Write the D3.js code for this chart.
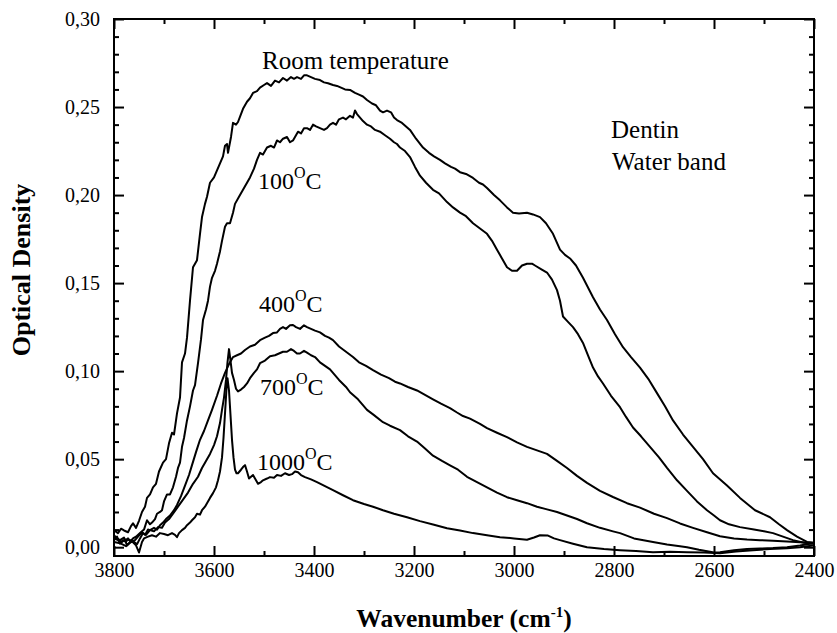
<!DOCTYPE html>
<html>
<head>
<meta charset="utf-8">
<script src="https://cdn.jsdelivr.net/npm/d3@7"></script>
<style>
    body { margin: 0; background: #fff; }
    svg { display: block; }
</style>
</head>
<body>
<svg id="chart"></svg>
<script>
// Spectra: [wavenumber (cm-1), optical density]
var roomTemp = [
    [3800,.0097],[3792,.0080],[3786,.0105],[3780,.0095],[3772,.0085],[3766,.0120],[3762,.0136],[3756,.0110],
    [3750,.0150],[3744,.0200],[3738,.0230],[3734,.0280],[3728,.0300],[3722,.0340],[3716,.0360],[3710,.0430],
    [3702,.0480],[3696,.0500],[3690,.0590],[3684,.0650],[3680,.0640],[3674,.0760],[3668,.0850],[3664,.1050],
    [3658,.1100],[3654,.1190],[3648,.1400],[3642,.1590],[3634,.1630],[3628,.1780],[3624,.1875],[3618,.1950],
    [3614,.1990],[3608,.2070],[3600,.2100],[3594,.2140],[3588,.2180],[3582,.2220],[3578,.2280],[3574,.2290],
    [3572,.2240],[3566,.2330],[3562,.2410],[3556,.2400],[3552,.2415],[3546,.2460],[3542,.2490],[3534,.2530],
    [3528,.2550],[3522,.2580],[3514,.2590],[3508,.2610],[3500,.2625],[3494,.2636],[3486,.2620],[3478,.2650],
    [3470,.2640],[3462,.2665],[3454,.2650],[3446,.2670],[3440,.2660],[3434,.2670],[3426,.2660],[3420,.2680],
    [3414,.2680],[3406,.2670],[3398,.2660],[3388,.2653],[3380,.2640],[3372,.2635],[3362,.2625],[3354,.2620],
    [3346,.2610],[3338,.2600],[3328,.2597],[3318,.2580],[3310,.2570],[3302,.2560],[3294,.2540],[3284,.2520],
    [3276,.2510],[3268,.2480],[3262,.2470],[3254,.2480],[3246,.2470],[3240,.2440],[3234,.2426],[3224,.2410],
    [3216,.2390],[3208,.2370],[3196,.2320],[3182,.2270],[3170,.2240],[3160,.2220],[3148,.2200],[3138,.2180],
    [3126,.2160],[3118,.2150],[3108,.2130],[3096,.2120],[3082,.2097],[3070,.2070],[3062,.2060],[3054,.2040],
    [3040,.2000],[3028,.1970],[3014,.1930],[3002,.1900],[2990,.1895],[2974,.1900],[2962,.1890],[2948,.1875],
    [2936,.1840],[2922,.1780],[2908,.1690],[2898,.1660],[2888,.1640],[2876,.1600],[2862,.1530],[2842,.1420],
    [2828,.1350],[2814,.1290],[2798,.1210],[2782,.1136],[2766,.1080],[2748,.1020],[2730,.0950],[2714,.0875],
    [2698,.0800],[2682,.0720],[2662,.0640],[2642,.0570],[2622,.0500],[2602,.0420],[2574,.0350],[2548,.0280],
    [2518,.0210],[2488,.0170],[2470,.0130],[2454,.0097],[2434,.0060],[2414,.0030],[2402,.0025]
]

var temp100 = [
    [3800,.0068],[3794,.0050],[3788,.0040],[3780,.0055],[3774,.0010],[3768,.0030],[3762,.0050],[3756,.0060],
    [3748,.0080],[3740,.0100],[3734,.0153],[3728,.0130],[3724,.0140],[3718,.0160],[3714,.0190],[3708,.0200],
    [3704,.0210],[3700,.0260],[3694,.0300],[3688,.0300],[3682,.0340],[3676,.0400],[3672,.0450],[3668,.0480],
    [3664,.0570],[3660,.0620],[3654,.0720],[3648,.0800],[3642,.0890],[3638,.0920],[3632,.1045],[3626,.1180],
    [3622,.1290],[3616,.1350],[3612,.1400],[3608,.1480],[3604,.1530],[3598,.1570],[3594,.1610],[3588,.1680],
    [3584,.1740],[3578,.1820],[3574,.1840],[3568,.1840],[3562,.1900],[3558,.1950],[3550,.1990],[3542,.2030],
    [3536,.2060],[3528,.2100],[3520,.2150],[3514,.2200],[3508,.2240],[3502,.2230],[3494,.2270],[3486,.2280],
    [3480,.2270],[3474,.2310],[3468,.2300],[3462,.2320],[3454,.2330],[3448,.2300],[3442,.2310],[3436,.2340],
    [3432,.2360],[3426,.2350],[3420,.2380],[3414,.2380],[3408,.2370],[3402,.2400],[3396,.2390],[3388,.2380],
    [3380,.2370],[3374,.2380],[3368,.2400],[3362,.2410],[3356,.2400],[3350,.2430],[3342,.2440],[3336,.2430],
    [3328,.2450],[3322,.2440],[3318,.2480],[3314,.2460],[3308,.2440],[3302,.2420],[3294,.2400],[3286,.2390],
    [3278,.2370],[3268,.2360],[3258,.2340],[3248,.2320],[3240,.2300],[3234,.2290],[3228,.2270],[3218,.2250],
    [3208,.2216],[3198,.2160],[3188,.2110],[3176,.2070],[3162,.2030],[3150,.2010],[3134,.1960],[3122,.1930],
    [3108,.1900],[3096,.1880],[3082,.1840],[3068,.1810],[3054,.1780],[3044,.1740],[3034,.1690],[3024,.1640],
    [3014,.1590],[3004,.1570],[2994,.1570],[2984,.1600],[2974,.1610],[2964,.1610],[2958,.1600],[2946,.1580],
    [2934,.1560],[2924,.1520],[2914,.1460],[2908,.1400],[2902,.1310],[2892,.1280],[2882,.1250],[2872,.1210],
    [2862,.1160],[2852,.1090],[2842,.1020],[2832,.0970],[2822,.0930],[2806,.0860],[2788,.0795],[2776,.0740],
    [2762,.0680],[2746,.0630],[2728,.0570],[2710,.0510],[2694,.0450],[2674,.0380],[2654,.0320],[2634,.0260],
    [2614,.0210],[2600,.0180],[2588,.0153],[2570,.0130],[2548,.0114],[2520,.0100],[2500,.0090],[2482,.0080],
    [2462,.0060],[2442,.0040],[2420,.0025],[2402,.0020]
]

var temp400 = [
    [3800,.0040],[3794,.0060],[3788,.0020],[3782,.0040],[3776,.0030],[3772,.0050],[3766,.0030],[3758,.0040],
    [3752,.0060],[3744,.0085],[3738,.0070],[3732,.0100],[3728,.0097],[3720,.0110],[3714,.0100],[3708,.0125],
    [3702,.0140],[3696,.0160],[3688,.0180],[3680,.0210],[3674,.0240],[3666,.0290],[3658,.0350],[3650,.0410],
    [3644,.0466],[3636,.0540],[3628,.0610],[3620,.0660],[3612,.0720],[3604,.0780],[3594,.0860],[3586,.0930],
    [3578,.0990],[3570,.1040],[3562,.1080],[3554,.1090],[3546,.1100],[3538,.1120],[3528,.1140],[3518,.1150],
    [3508,.1176],[3498,.1190],[3490,.1200],[3482,.1216],[3474,.1220],[3468,.1240],[3462,.1250],[3456,.1240],
    [3448,.1260],[3442,.1262],[3436,.1250],[3428,.1240],[3420,.1260],[3414,.1250],[3406,.1240],[3398,.1230],
    [3388,.1220],[3378,.1200],[3370,.1190],[3362,.1176],[3350,.1140],[3336,.1110],[3322,.1080],[3310,.1050],
    [3296,.1030],[3282,.1006],[3266,.0980],[3250,.0960],[3238,.0940],[3228,.0930],[3212,.0910],[3194,.0890],
    [3178,.0865],[3162,.0840],[3146,.0815],[3128,.0790],[3114,.0765],[3102,.0745],[3088,.0730],[3068,.0700],
    [3054,.0676],[3034,.0650],[3014,.0625],[2994,.0595],[2974,.0570],[2954,.0550],[2934,.0530],[2914,.0490],
    [2894,.0450],[2874,.0405],[2854,.0365],[2828,.0320],[2802,.0285],[2774,.0250],[2748,.0225],[2720,.0190],
    [2694,.0165],[2668,.0135],[2642,.0110],[2614,.0085],[2588,.0062],[2560,.0050],[2534,.0044],[2508,.0040],
    [2482,.0036],[2454,.0032],[2428,.0028],[2402,.0025]
]

var temp700 = [
    [3800,.0050],[3792,.0040],[3784,.0030],[3776,.0045],[3768,.0040],[3760,.0030],[3754,.0017],[3748,.0050],
    [3742,.0080],[3736,.0070],[3728,.0097],[3720,.0090],[3712,.0114],[3704,.0110],[3698,.0140],[3690,.0160],
    [3682,.0190],[3672,.0230],[3662,.0270],[3652,.0310],[3642,.0360],[3632,.0400],[3624,.0450],[3616,.0490],
    [3608,.0530],[3600,.0580],[3594,.0630],[3588,.0705],[3584,.0780],[3580,.0850],[3576,.0950],[3573,.1050],
    [3570,.1125],[3567,.1060],[3564,.0990],[3560,.0950],[3556,.0900],[3552,.0885],[3546,.0895],[3540,.0910],
    [3534,.0930],[3528,.0960],[3520,.0990],[3514,.1010],[3508,.1045],[3498,.1060],[3488,.1085],[3478,.1090],
    [3470,.1100],[3462,.1110],[3454,.1110],[3446,.1125],[3440,.1115],[3434,.1100],[3428,.1100],[3420,.1115],
    [3414,.1105],[3406,.1090],[3398,.1080],[3388,.1050],[3378,.1030],[3368,.1010],[3362,.0990],[3350,.0950],
    [3336,.0910],[3328,.0880],[3312,.0840],[3294,.0780],[3280,.0750],[3262,.0710],[3248,.0690],[3228,.0665],
    [3212,.0630],[3194,.0600],[3178,.0560],[3162,.0520],[3144,.0490],[3128,.0465],[3112,.0440],[3094,.0400],
    [3074,.0370],[3054,.0340],[3034,.0310],[3014,.0284],[2994,.0267],[2974,.0250],[2954,.0230],[2934,.0215],
    [2914,.0200],[2894,.0180],[2874,.0160],[2854,.0136],[2828,.0110],[2802,.0090],[2788,.0080],[2760,.0050],
    [2722,.0030],[2694,.0015],[2668,.0005],[2654,.0000],[2630,-.0015],[2600,-.0030],[2588,-.0028],[2560,-.0017],
    [2534,-.0010],[2508,-.0008],[2482,-.0005],[2454,.0000],[2428,.0010],[2402,.0023]
]

var temp1000 = [
    [3800,.0030],[3788,.0023],[3776,.0006],[3764,.0034],[3756,.0010],[3750,-.0030],[3744,.0030],[3740,.0050],
    [3732,.0060],[3724,.0068],[3716,.0060],[3708,.0080],[3700,.0075],[3692,.0068],[3684,.0080],[3678,.0070],
    [3674,.0057],[3670,.0080],[3664,.0097],[3658,.0110],[3654,.0125],[3648,.0140],[3644,.0153],[3638,.0170],
    [3634,.0190],[3628,.0185],[3624,.0210],[3618,.0230],[3614,.0250],[3608,.0280],[3602,.0307],[3596,.0340],
    [3592,.0380],[3588,.0430],[3584,.0510],[3581,.0620],[3578,.0760],[3575,.0900],[3573,.0960],[3570,.0890],
    [3567,.0750],[3564,.0610],[3561,.0510],[3558,.0440],[3555,.0420],[3552,.0420],[3546,.0440],[3542,.0455],
    [3538,.0466],[3534,.0430],[3530,.0390],[3526,.0400],[3522,.0410],[3516,.0380],[3512,.0360],[3506,.0370],
    [3502,.0380],[3494,.0390],[3488,.0398],[3480,.0395],[3474,.0410],[3466,.0405],[3458,.0420],[3450,.0410],
    [3444,.0415],[3438,.0430],[3432,.0426],[3426,.0410],[3418,.0398],[3406,.0385],[3394,.0370],[3380,.0350],
    [3362,.0324],[3342,.0295],[3322,.0267],[3300,.0245],[3282,.0230],[3262,.0210],[3240,.0190],[3214,.0170],
    [3188,.0148],[3160,.0128],[3134,.0108],[3108,.0095],[3082,.0080],[3054,.0068],[3028,.0057],[3000,.0050],
    [2974,.0042],[2960,.0055],[2948,.0068],[2932,.0066],[2920,.0050],[2908,.0040],[2882,.0020],[2854,.0000],
    [2820,-.0010],[2788,-.0017],[2756,-.0022],[2722,-.0028],[2688,-.0026],[2654,-.0028],[2620,-.0030],
    [2588,-.0034],[2556,-.0025],[2522,-.0017],[2488,-.0010],[2454,-.0006],[2428,.0000],[2402,.0010]
]

var series = [roomTemp, temp100, temp400, temp700, temp1000]

var xMajorTicks = [3800, 3600, 3400, 3200, 3000, 2800, 2600, 2400]
var xMinorTicks = [3700, 3500, 3300, 3100, 2900, 2700, 2500]
var yMajorTicks = [0, 0.05, 0.10, 0.15, 0.20, 0.25, 0.30]
var yMinorTicks = d3.range(1, 30).filter(d => d % 5 != 0).map(d => d / 100)

var dimensions = {
    width: 837,
    height: 633,
    margin: {
        top: 19,
        bottom: 77,
        right: 23,
        left: 114
    }
}

var serif = "'Liberation Serif', 'Times New Roman', Times, serif"

var svg = d3.select("#chart")
    .attr("width", dimensions.width)
    .attr("height", dimensions.height)
    .style("background", "white")

var xScale = d3.scaleLinear()
    .domain([3800, 2400])
    .range([dimensions.margin.left, dimensions.width - dimensions.margin.right])

var yScale = d3.scaleLinear()
    .domain([-0.005, 0.30])
    .range([dimensions.height - dimensions.margin.bottom, dimensions.margin.top])

var plotBottom = dimensions.height - dimensions.margin.bottom
var plotRight = dimensions.width - dimensions.margin.right

var commaFormat = d => d3.format(".2f")(d).replace(".", ",")

// Draws one axis group with inward ticks, no domain path
function drawAxis(axis, transform, showLabels) {
    var g = svg.append("g")
        .attr("transform", transform)
        .call(axis)
    g.select(".domain").remove()
    g.selectAll(".tick line").attr("stroke", "black").attr("stroke-width", 2)
    g.selectAll(".tick text")
        .style("font-family", serif)
        .style("font-size", "20px")
        .attr("fill", "black")
    if (!showLabels) g.selectAll(".tick text").remove()
    return g
}

// Bottom axis, major then minor ticks
drawAxis(d3.axisBottom(xScale).tickValues(xMajorTicks).tickSize(-10).tickPadding(7).tickFormat(d3.format("d")),
    `translate(0,${plotBottom})`, true)
drawAxis(d3.axisBottom(xScale).tickValues(xMinorTicks).tickSize(-5).tickFormat(""),
    `translate(0,${plotBottom})`, false)
// Top mirror
drawAxis(d3.axisTop(xScale).tickValues(xMajorTicks).tickSize(-10).tickFormat(""),
    `translate(0,${dimensions.margin.top})`, false)
drawAxis(d3.axisTop(xScale).tickValues(xMinorTicks).tickSize(-5).tickFormat(""),
    `translate(0,${dimensions.margin.top})`, false)
// Left axis
drawAxis(d3.axisLeft(yScale).tickValues(yMajorTicks).tickSize(-10).tickPadding(14).tickFormat(commaFormat),
    `translate(${dimensions.margin.left},0)`, true)
drawAxis(d3.axisLeft(yScale).tickValues(yMinorTicks).tickSize(-5).tickFormat(""),
    `translate(${dimensions.margin.left},0)`, false)
// Right mirror
drawAxis(d3.axisRight(yScale).tickValues(yMajorTicks).tickSize(-10).tickFormat(""),
    `translate(${plotRight},0)`, false)
drawAxis(d3.axisRight(yScale).tickValues(yMinorTicks).tickSize(-5).tickFormat(""),
    `translate(${plotRight},0)`, false)

// Frame
svg.append("rect")
    .attr("x", dimensions.margin.left)
    .attr("y", dimensions.margin.top)
    .attr("width", plotRight - dimensions.margin.left)
    .attr("height", plotBottom - dimensions.margin.top)
    .attr("fill", "none")
    .attr("stroke", "black")
    .attr("stroke-width", 2)

// Curves
var line = d3.line()
    .x(d => xScale(d[0]))
    .y(d => yScale(d[1]))

svg.append("g")
    .selectAll("path")
    .data(series)
    .enter()
    .append("path")
    .attr("d", line)
    .attr("fill", "none")
    .attr("stroke", "black")
    .attr("stroke-width", 2)
    .attr("stroke-linejoin", "round")

// Annotations
function addText(x, y, txt) {
    return svg.append("text")
        .attr("x", x)
        .attr("y", y)
        .text(txt)
        .style("font-family", serif)
        .style("font-size", "25px")
        .attr("fill", "black")
}

addText(262, 69, "Room temperature")
addText(611, 138, "Dentin")
addText(612, 170, "Water band")

var tempLabels = [
    {num: "100", x: 258, y: 189},
    {num: "400", x: 259, y: 312},
    {num: "700", x: 260, y: 395},
    {num: "1000", x: 257, y: 470}
]

tempLabels.forEach(element => {
    var t = svg.append("text")
        .attr("x", element.x)
        .attr("y", element.y)
        .style("font-family", serif)
        .style("font-size", "24px")
        .attr("fill", "black")
    t.append("tspan").text(element.num)
    t.append("tspan").text("O").style("font-size", "16px").attr("dy", -11)
    t.append("tspan").text("C").attr("dy", 11)
})

// Axis titles
var xTitle = svg.append("text")
    .attr("x", (dimensions.margin.left + plotRight) / 2)
    .attr("y", 627)
    .style("font-family", serif)
    .style("font-size", "25.5px")
    .style("font-weight", "bold")
    .style("text-anchor", "middle")
    .attr("fill", "black")
xTitle.append("tspan").text("Wavenumber (cm")
xTitle.append("tspan").text("-1").style("font-size", "15px").attr("dy", -10)
xTitle.append("tspan").text(")").attr("dy", 10)

svg.append("text")
    .attr("transform", "translate(30,270) rotate(-90)")
    .text("Optical Density")
    .style("font-family", serif)
    .style("font-size", "26px")
    .style("font-weight", "bold")
    .style("text-anchor", "middle")
    .attr("fill", "black")
</script>
</body>
</html>
